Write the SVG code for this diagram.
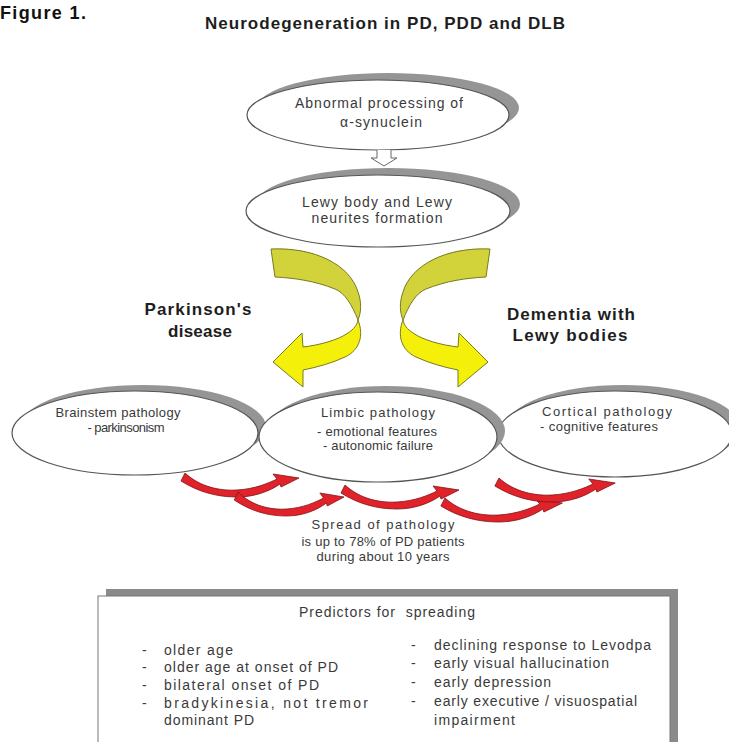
<svg xmlns="http://www.w3.org/2000/svg" width="729" height="742" viewBox="0 0 729 742">
<style>
.t{font-family:"Liberation Sans",Arial,sans-serif;fill:#3a3a3a;font-size:13px}
.m{text-anchor:middle}
.b{font-weight:bold;fill:#1e1e1e;font-size:17px}
.sh{fill:#959595}
.el{fill:#fff;stroke:#555;stroke-width:1.2}
.yb{fill:#d2d23a;stroke:#7a7a20;stroke-width:1}
.yf{fill:#f4f00a;stroke:#7a7a20;stroke-width:1}
.red{fill:#e2222a;stroke:#7a1414;stroke-width:0.8}
.li{font-size:14px}
</style>
<defs>
<path id="ra" d="M0,0 C15,14 35,18 52,17 C70,16 84,10 92,6 L88,1 L114,5 L96,14 L95,11 C85,18 70,24 52,24 C30,24 12,18 -4,8 Z"/>
<g id="ya">
<path class="yb" d="M271,249 C315,247 350,265 358,292 C362,303 361,313 358,320 C352,305 345,293 335,289 C315,281 295,278 275,277 Z"/>
<path class="yf" d="M358,320 C364,335 360,350 345,357 C332,363 318,367 303,370 L303,387 L273,362 L302,333 L303,347 C320,345 338,340 348,333 C354,329 357,325 358,320 Z"/>
</g>
</defs>
<rect width="729" height="742" fill="#fff"/>
<g id="heading">
<text class="t" x="0" y="19" style="font-weight:bold;font-size:18px;fill:#111" textLength="86">Figure 1.</text>
<text class="t b m" x="385" y="29" textLength="360">Neurodegeneration in PD, PDD and DLB</text>
</g>
<g id="n1">
<ellipse class="sh" cx="388" cy="108" rx="131" ry="35"/>
<ellipse class="el" cx="378" cy="115" rx="131" ry="35"/>
<text class="t m" x="379" y="108" style="font-size:14px" textLength="168">Abnormal processing of</text>
<text class="t m" x="381" y="127" style="font-size:14px" textLength="82">α-synuclein</text>
</g>
<g id="n2">
<ellipse class="sh" cx="388" cy="204" rx="132" ry="36"/>
<ellipse class="el" cx="378" cy="211" rx="132" ry="36"/>
<text class="t m" x="377" y="207" style="font-size:14px" textLength="150">Lewy body and Lewy</text>
<text class="t m" x="377" y="223" style="font-size:14px" textLength="131">neurites formation</text>
</g>
<g id="labels">
<text class="t b m" x="198" y="315" textLength="107">Parkinson's</text>
<text class="t b m" x="200" y="337" textLength="64">disease</text>
<text class="t b m" x="571" y="320" textLength="128">Dementia with</text>
<text class="t b m" x="570" y="341" textLength="115">Lewy bodies</text>
</g>
<g id="n3">
<ellipse class="sh" cx="143" cy="427" rx="123" ry="42"/>
<ellipse class="el" cx="135" cy="433" rx="123" ry="42"/>
<text class="t m" x="118" y="417" textLength="125">Brainstem pathology</text>
<text class="t m" x="126" y="432" textLength="77">- parkinsonism</text>
</g>
<g id="n5">
<ellipse class="sh" cx="623" cy="428" rx="117" ry="43"/>
<ellipse class="el" cx="615" cy="434" rx="117" ry="43"/>
<text class="t m" x="607" y="416" textLength="130">Cortical pathology</text>
<text class="t m" x="599" y="431" textLength="118">- cognitive features</text>
</g>
<g id="n4">
<ellipse class="sh" cx="386" cy="431" rx="119" ry="45"/>
<ellipse class="el" cx="378" cy="437" rx="119" ry="45"/>
<text class="t m" x="378" y="417" textLength="114">Limbic pathology</text>
<text class="t m" x="377" y="436" textLength="120">- emotional features</text>
<text class="t m" x="378" y="450" textLength="110">- autonomic failure</text>
</g>
<g id="connectors">
<path d="M377,150 L377,158 L371,158 L384,166 L397,158 L391,158 L391,150" fill="#fff" stroke="#666" stroke-width="1"/>
<use href="#ya"/>
<use href="#ya" transform="translate(761,0) scale(-1,1)"/>
<use href="#ra" class="red" transform="translate(185,473)"/>
<use href="#ra" class="red" transform="translate(238,492) scale(0.93,1)"/>
<use href="#ra" class="red" transform="translate(345,485)"/>
<use href="#ra" class="red" transform="translate(445,498) scale(1.03,1)"/>
<use href="#ra" class="red" transform="translate(499,478) scale(1.02,1)"/>
</g>
<g id="spread">
<text class="t m" x="383" y="529" textLength="143">Spread of pathology</text>
<text class="t m" x="383" y="546" textLength="163">is up to 78% of PD patients</text>
<text class="t m" x="383" y="561" textLength="133">during about 10 years</text>
</g>
<g id="box">
<rect class="sh" x="106" y="589" width="572" height="170" style="fill:#8a8a8a"/>
<rect x="98" y="596" width="572" height="170" fill="#fff" stroke="#777" stroke-width="1"/>
<text class="t m li" x="387" y="617" textLength="176" style="white-space:pre">Predictors for  spreading</text>
<g class="li">
<text class="t li" x="142" y="655">-</text>
<text class="t li" x="142" y="672">-</text>
<text class="t li" x="142" y="690">-</text>
<text class="t li" x="142" y="708">-</text>
<text class="t li" x="164" y="655" textLength="69">older age</text>
<text class="t li" x="164" y="672" textLength="174">older age at onset of PD</text>
<text class="t li" x="164" y="690" textLength="155">bilateral onset of PD</text>
<text class="t li" x="164" y="708" textLength="204">bradykinesia, not tremor</text>
<text class="t li" x="164" y="725" textLength="90">dominant PD</text>
<text class="t li" x="411" y="650">-</text>
<text class="t li" x="411" y="668">-</text>
<text class="t li" x="411" y="687">-</text>
<text class="t li" x="411" y="706">-</text>
<text class="t li" x="434" y="650" textLength="217">declining response to Levodpa</text>
<text class="t li" x="434" y="668" textLength="175">early visual hallucination</text>
<text class="t li" x="434" y="687" textLength="117">early depression</text>
<text class="t li" x="434" y="706" textLength="203">early executive / visuospatial</text>
<text class="t li" x="434" y="725" textLength="81">impairment</text>
</g>
</g>
</svg>
